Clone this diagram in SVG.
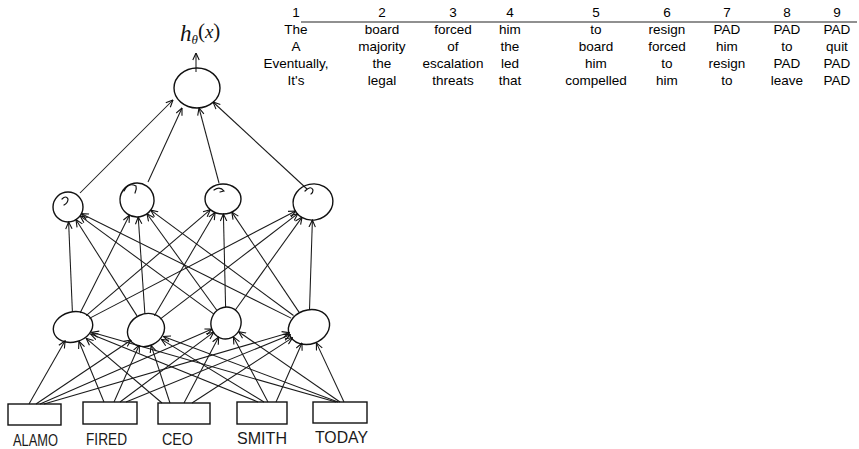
<svg xmlns="http://www.w3.org/2000/svg" width="859" height="449" viewBox="0 0 859 449">
  <style>
    .node { fill: none; stroke: #111; stroke-width: 1.4; }
    .curl { fill: none; stroke: #111; stroke-width: 1.2; stroke-linecap: round; }
    .edge { stroke: #1a1a1a; stroke-width: 1.05; fill: none; marker-end: url(#arr); }
    .hand { font-family: "Liberation Sans", Arial, sans-serif; font-size: 17px; fill: #1a1a1a; }
    .math { font-family: "Liberation Serif", serif; font-style: italic; fill: #111; }
    .tbl { font-family: "Liberation Sans", Arial, sans-serif; font-size: 13.5px; fill: #000; text-anchor: middle; }
  </style>
  <defs>
    <marker id="arr" viewBox="0 0 8 8" refX="7.5" refY="4" markerWidth="8" markerHeight="8" markerUnits="userSpaceOnUse" orient="auto">
      <path d="M0.5,0.8 L7.5,4 L0.5,7.2" fill="none" stroke="#111" stroke-width="1.1"/>
    </marker>
  </defs>

  <rect width="859" height="449" fill="#fff"/>

  <!-- connectors -->
  <g id="connectors">
    <!-- inputs to first hidden layer -->
    <line class="edge" x1="29" y1="404" x2="65.1" y2="340.8"/>
    <line class="edge" x1="36" y1="404" x2="131.2" y2="340"/>
    <line class="edge" x1="40" y1="404" x2="212.1" y2="329.1"/>
    <line class="edge" x1="44" y1="404" x2="289.2" y2="332.7"/>

    <line class="edge" x1="104" y1="402" x2="78.9" y2="341.3"/>
    <line class="edge" x1="114" y1="402" x2="139.3" y2="345"/>
    <line class="edge" x1="120" y1="402" x2="213.7" y2="332.2"/>
    <line class="edge" x1="126" y1="402" x2="290.3" y2="334.7"/>

    <line class="edge" x1="162" y1="403" x2="86.2" y2="338.3"/>
    <line class="edge" x1="170" y1="403" x2="151.1" y2="345.4"/>
    <line class="edge" x1="184" y1="403" x2="218.7" y2="337"/>
    <line class="edge" x1="192" y1="403" x2="292.6" y2="337.6"/>

    <line class="edge" x1="258" y1="402" x2="90.6" y2="334.1"/>
    <line class="edge" x1="264" y1="402" x2="161.4" y2="339.4"/>
    <line class="edge" x1="268" y1="402" x2="233.4" y2="336.9"/>
    <line class="edge" x1="276" y1="402" x2="302" y2="343"/>

    <line class="edge" x1="336" y1="402" x2="91.7" y2="332.3"/>
    <line class="edge" x1="338" y1="402" x2="163.4" y2="336.5"/>
    <line class="edge" x1="340" y1="402" x2="238.6" y2="331.7"/>
    <line class="edge" x1="344" y1="402" x2="316.4" y2="342.9"/>

    <!-- first hidden layer to second hidden layer -->
    <line class="edge" x1="72.4" y1="312" x2="68.6" y2="222"/>
    <line class="edge" x1="80.1" y1="313" x2="129.4" y2="215.2"/>
    <line class="edge" x1="86.2" y1="315.7" x2="210.4" y2="209.7"/>
    <line class="edge" x1="89.4" y1="318.4" x2="295.7" y2="211"/>

    <line class="edge" x1="137" y1="315.9" x2="76" y2="219.7"/>
    <line class="edge" x1="144.9" y1="314" x2="138.2" y2="217"/>
    <line class="edge" x1="154.4" y1="315.7" x2="215.1" y2="212.5"/>
    <line class="edge" x1="160.1" y1="319.2" x2="297.8" y2="213.7"/>

    <line class="edge" x1="213.6" y1="313.9" x2="80.1" y2="215.9"/>
    <line class="edge" x1="216.8" y1="310.3" x2="147" y2="213.8"/>
    <line class="edge" x1="225.6" y1="307" x2="223.4" y2="214"/>
    <line class="edge" x1="235.1" y1="310.3" x2="302.1" y2="217.1"/>

    <line class="edge" x1="291.1" y1="318.1" x2="81.4" y2="213.7"/>
    <line class="edge" x1="293.5" y1="315.5" x2="150.7" y2="210.1"/>
    <line class="edge" x1="299" y1="312.1" x2="231.8" y2="212.1"/>
    <line class="edge" x1="309.5" y1="310" x2="312.4" y2="220"/>

    <!-- second hidden layer to output unit -->
    <line class="edge" x1="80" y1="193" x2="173" y2="100"/>
    <line class="edge" x1="148" y1="182" x2="182" y2="108"/>
    <line class="edge" x1="219" y1="183" x2="199" y2="108"/>
    <line class="edge" x1="307" y1="189" x2="213" y2="102"/>

    <!-- output arrow -->
    <line class="edge" x1="196" y1="72" x2="196" y2="53"/>
  </g>

  <!-- output unit -->
  <g id="output">
    <ellipse class="node" cx="197" cy="88" rx="23" ry="20"/>
    <text class="math" x="180" y="41" font-size="23">h<tspan font-size="13" dy="3">θ</tspan><tspan font-size="21" dy="-6" font-style="normal">(</tspan><tspan font-size="19">x</tspan><tspan font-size="21" font-style="normal">)</tspan></text>
  </g>

  <!-- second hidden layer -->
  <g id="h2-1">
    <ellipse class="node" cx="68" cy="207" rx="15" ry="15"/>
    <path class="curl" d="M62,199 Q66,195 68,199 Q68,203 64,205"/>
  </g>
  <g id="h2-2">
    <ellipse class="node" cx="137" cy="200" rx="17" ry="17" transform="rotate(-10 137 200)"/>
    <path class="curl" d="M124,191 Q128,182 136,186 Q137,189 135,193"/>
  </g>
  <g id="h2-3">
    <ellipse class="node" cx="223" cy="199" rx="18" ry="15"/>
    <path class="curl" d="M214,190 Q220,186 224,191 L220,192"/>
  </g>
  <g id="h2-4">
    <ellipse class="node" cx="313" cy="202" rx="20" ry="18" transform="rotate(-12 313 202)"/>
    <path class="curl" d="M305,191 Q311,185 313,190 Q313,193 311,194"/>
  </g>

  <!-- first hidden layer -->
  <g id="h1-1"><ellipse class="node" cx="73" cy="327" rx="20" ry="15" transform="rotate(-15 73 327)"/></g>
  <g id="h1-2"><ellipse class="node" cx="146" cy="330" rx="19" ry="16" transform="rotate(-25 146 330)"/></g>
  <g id="h1-3"><ellipse class="node" cx="226" cy="323" rx="15" ry="16" transform="rotate(20 226 323)"/></g>
  <g id="h1-4"><ellipse class="node" cx="309" cy="327" rx="21" ry="17" transform="rotate(-20 309 327)"/></g>

  <!-- input words -->
  <g id="in-alamo">
    <rect class="node" x="8" y="404" width="53" height="21"/>
    <text class="hand" x="13" y="446" textLength="45" lengthAdjust="spacingAndGlyphs">ALAMO</text>
  </g>
  <g id="in-fired">
    <rect class="node" x="83" y="402" width="54" height="22"/>
    <text class="hand" x="86" y="445" textLength="41" lengthAdjust="spacingAndGlyphs">FIRED</text>
  </g>
  <g id="in-ceo">
    <rect class="node" x="158" y="403" width="52" height="21"/>
    <text class="hand" x="162" y="445" textLength="31" lengthAdjust="spacingAndGlyphs">CEO</text>
  </g>
  <g id="in-smith">
    <rect class="node" x="237" y="402" width="50" height="22"/>
    <text class="hand" x="237" y="444" textLength="50" lengthAdjust="spacingAndGlyphs">SMITH</text>
  </g>
  <g id="in-today">
    <rect class="node" x="313" y="402" width="54" height="21"/>
    <text class="hand" x="315" y="443" textLength="53" lengthAdjust="spacingAndGlyphs">TODAY</text>
  </g>

  <!-- padded sentence table -->
  <g id="table">
    <line x1="301" y1="22" x2="857" y2="22" stroke="#222" stroke-width="1.1"/>
    <g class="tbl">
      <text x="296" y="17">1</text>
      <text x="382" y="17">2</text>
      <text x="453" y="17">3</text>
      <text x="510" y="17">4</text>
      <text x="596" y="17">5</text>
      <text x="667" y="17">6</text>
      <text x="727" y="17">7</text>
      <text x="787" y="17">8</text>
      <text x="837" y="17">9</text>

      <text x="296" y="34">The</text>
      <text x="382" y="34">board</text>
      <text x="453" y="34">forced</text>
      <text x="510" y="34">him</text>
      <text x="596" y="34">to</text>
      <text x="667" y="34">resign</text>
      <text x="727" y="34">PAD</text>
      <text x="787" y="34">PAD</text>
      <text x="837" y="34">PAD</text>

      <text x="296" y="51">A</text>
      <text x="382" y="51">majority</text>
      <text x="453" y="51">of</text>
      <text x="510" y="51">the</text>
      <text x="596" y="51">board</text>
      <text x="667" y="51">forced</text>
      <text x="727" y="51">him</text>
      <text x="787" y="51">to</text>
      <text x="837" y="51">quit</text>

      <text x="296" y="68">Eventually,</text>
      <text x="382" y="68">the</text>
      <text x="453" y="68">escalation</text>
      <text x="510" y="68">led</text>
      <text x="596" y="68">him</text>
      <text x="667" y="68">to</text>
      <text x="727" y="68">resign</text>
      <text x="787" y="68">PAD</text>
      <text x="837" y="68">PAD</text>

      <text x="296" y="85">It's</text>
      <text x="382" y="85">legal</text>
      <text x="453" y="85">threats</text>
      <text x="510" y="85">that</text>
      <text x="596" y="85">compelled</text>
      <text x="667" y="85">him</text>
      <text x="727" y="85">to</text>
      <text x="787" y="85">leave</text>
      <text x="837" y="85">PAD</text>
    </g>
  </g>
</svg>
